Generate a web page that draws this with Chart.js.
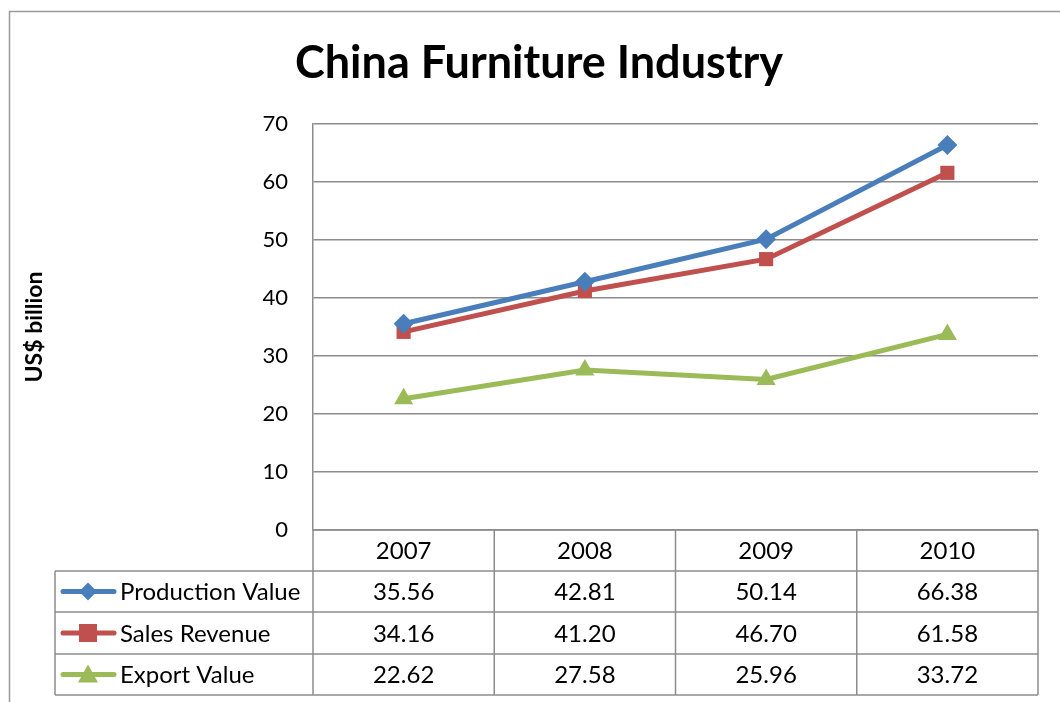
<!DOCTYPE html>
<html>
<head>
<meta charset="utf-8">
<title>China Furniture Industry</title>
<script src="https://cdn.jsdelivr.net/npm/chart.js@4.4.1/dist/chart.umd.min.js"></script>
<style>
  body { margin: 0; background: #fff; }
  canvas { display: block; }
</style>
</head>
<body>
<canvas id="grafico" width="1060" height="702"></canvas>
<script>
const anos = ['2007', '2008', '2009', '2010'];
const producao = [35.56, 42.81, 50.14, 66.38];
const vendas = [34.16, 41.20, 46.70, 61.58];
const exportacao = [22.62, 27.58, 25.96, 33.72];
const nomesSeries = ['Production Value', 'Sales Revenue', 'Export Value'];
const coresSeries = ['#4A7EBB', '#C0504D', '#9BBB59'];
const marcadores = ['rectRot', 'rect', 'triangle'];

const FONTE = 'Lato, "Open Sans", sans-serif';
const COR_LINHA = '#8c8c8c';

// moldura, titulo e tabela de dados abaixo do grafico
const tabelaPlugin = {
    id: 'tabelaDados',
    beforeDraw(chart) {
        const ctx = chart.ctx;
        ctx.save();
        ctx.strokeStyle = '#9a9a9a';
        ctx.lineWidth = 1.5;
        ctx.beginPath();
        ctx.moveTo(9.5, 702);
        ctx.lineTo(9.5, 11.5);
        ctx.lineTo(1060, 11.5);
        ctx.stroke();

        ctx.fillStyle = '#000';
        ctx.font = 'bold 45px ' + FONTE;
        ctx.textAlign = 'center';
        ctx.textBaseline = 'middle';
        ctx.fillText('China Furniture Industry', 539, 63);
        ctx.restore();
    },
    afterDraw(chart) {
        const ctx = chart.ctx;
        const area = chart.chartArea;
        const x = chart.scales.x;
        const largura = (area.right - area.left) / anos.length;
        const topo = area.bottom;
        const alturas = [41, 41, 42, 41];
        const linhasY = [topo];
        alturas.forEach(h => linhasY.push(linhasY[linhasY.length - 1] + h));
        const esquerdaLegenda = 55;
        const dados = [producao, vendas, exportacao];

        ctx.save();
        ctx.strokeStyle = COR_LINHA;
        ctx.lineWidth = 1.5;

        // linhas horizontais
        linhasY.forEach((y, i) => {
            ctx.beginPath();
            ctx.moveTo(i === 0 ? area.left : esquerdaLegenda, y);
            ctx.lineTo(area.right, y);
            ctx.stroke();
        });
        // linhas verticais
        for (let i = 0; i <= anos.length; i++) {
            const xx = area.left + i * largura;
            ctx.beginPath();
            ctx.moveTo(xx, topo);
            ctx.lineTo(xx, linhasY[linhasY.length - 1]);
            ctx.stroke();
        }
        ctx.beginPath();
        ctx.moveTo(esquerdaLegenda, linhasY[1]);
        ctx.lineTo(esquerdaLegenda, linhasY[linhasY.length - 1]);
        ctx.stroke();

        ctx.fillStyle = '#000';
        ctx.font = '24px ' + FONTE;
        ctx.textAlign = 'center';
        ctx.textBaseline = 'middle';
        anos.forEach((ano, i) => {
            ctx.fillText(ano, x.getPixelForValue(i), (linhasY[0] + linhasY[1]) / 2 + 1);
        });

        dados.forEach((serie, s) => {
            const yc = (linhasY[s + 1] + linhasY[s + 2]) / 2 + 1;
            ctx.textAlign = 'center';
            ctx.fillStyle = '#000';
            serie.forEach((v, i) => {
                ctx.fillText(v.toFixed(2), x.getPixelForValue(i), yc);
            });

            // chave da legenda
            const cor = coresSeries[s];
            ctx.strokeStyle = cor;
            ctx.lineWidth = 5;
            ctx.lineCap = 'round';
            ctx.beginPath();
            ctx.moveTo(63, yc - 1);
            ctx.lineTo(114, yc - 1);
            ctx.stroke();
            ctx.fillStyle = cor;
            const cx = 88, cy = yc - 1;
            ctx.beginPath();
            if (s === 0) {
                ctx.moveTo(cx, cy - 9); ctx.lineTo(cx + 9, cy); ctx.lineTo(cx, cy + 9); ctx.lineTo(cx - 9, cy);
            } else if (s === 1) {
                ctx.rect(cx - 9, cy - 9, 18, 18);
            } else {
                ctx.moveTo(cx, cy - 10); ctx.lineTo(cx + 10, cy + 8); ctx.lineTo(cx - 10, cy + 8);
            }
            ctx.closePath();
            ctx.fill();
            ctx.strokeStyle = COR_LINHA;
            ctx.lineWidth = 1.5;

            ctx.fillStyle = '#000';
            ctx.textAlign = 'left';
            ctx.fillText(nomesSeries[s], 120, yc);
        });
        ctx.restore();
    }
};

function serie(label, valores, i) {
    return {
        label: label,
        data: valores,
        borderColor: coresSeries[i],
        backgroundColor: coresSeries[i],
        borderWidth: 5,
        pointStyle: marcadores[i],
        pointRadius: i === 2 ? 11 : 10,
        pointBorderWidth: 0,
        tension: 0
    };
}

new Chart(document.getElementById('grafico'), {
    type: 'line',
    data: {
        labels: anos,
        datasets: [
            serie(nomesSeries[0], producao, 0),
            serie(nomesSeries[1], vendas, 1),
            serie(nomesSeries[2], exportacao, 2)
        ]
    },
    options: {
        responsive: false,
        animation: false,
        events: [],
        layout: { padding: { left: 10, top: 124, right: 22, bottom: 172 } },
        plugins: {
            legend: { display: false },
            tooltip: { enabled: false }
        },
        scales: {
            x: {
                display: false,
                offset: true
            },
            y: {
                min: 0,
                max: 70,
                ticks: {
                    stepSize: 10,
                    padding: 25,
                    color: '#000',
                    font: { family: FONTE, size: 22 }
                },
                grid: {
                    color: COR_LINHA,
                    lineWidth: 1.5,
                    drawTicks: false
                },
                border: { color: COR_LINHA, width: 1.5 },
                title: {
                    display: true,
                    text: 'US$ billion',
                    color: '#000',
                    font: { family: FONTE, size: 23, weight: 'bold' },
                    padding: { top: 11, bottom: 0 }
                },
                afterFit(scale) {
                    scale.width = 303;
                }
            }
        }
    },
    plugins: [tabelaPlugin]
});
</script>
</body>
</html>
